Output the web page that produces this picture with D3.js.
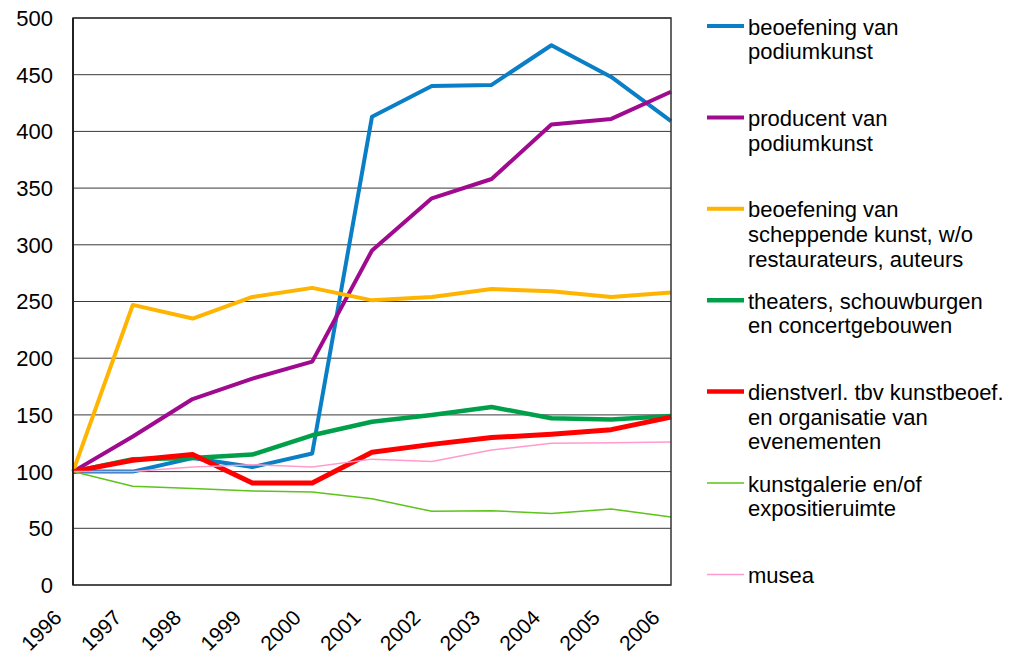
<!DOCTYPE html>
<html>
<head>
<meta charset="utf-8">
<script src="https://cdn.jsdelivr.net/npm/d3@7"></script>
<style>
  body { margin: 0; background: #fff; }
  svg { display: block; }
  text { font-family: "Liberation Sans", Arial, sans-serif; fill: #000; }
</style>
</head>
<body>
<svg></svg>
<script>
// data (index, 1996 = 100)
const years = [1996, 1997, 1998, 1999, 2000, 2001, 2002, 2003, 2004, 2005, 2006];
const yTicks = [0, 50, 100, 150, 200, 250, 300, 350, 400, 450, 500];

const seriesNames = [
  ["beoefening van", "podiumkunst"],
  ["producent van", "podiumkunst"],
  ["beoefening van", "scheppende kunst, w/o", "restaurateurs, auteurs"],
  ["theaters, schouwburgen", "en concertgebouwen"],
  ["dienstverl. tbv kunstbeoef.", "en organisatie van", "evenementen"],
  ["kunstgalerie en/of", "expositieruimte"],
  ["musea"]
];
const seriesColors = ["#0A7FC6", "#A00A8E", "#FFB400", "#00A04B", "#FF0000", "#5CC41A", "#FF9BCD"];
const seriesWidths = [4, 4, 4, 4.5, 5, 1.5, 1.5];

const podiumBeoefening = [100, 100, 112, 104, 116, 413, 440, 441, 476, 448, 409];
const podiumProducent  = [100, 131, 164, 182, 197, 295, 341, 358, 406, 411, 435];
const scheppendeKunst  = [100, 247, 235, 254, 262, 251, 254, 261, 259, 254, 258];
const theaters         = [100, 111, 112, 115, 132, 144, 150, 157, 147, 146, 149];
const dienstverlening  = [100, 110, 115, 90, 90, 117, 124, 130, 133, 137, 148];
const kunstgalerie     = [100, 87, 85, 83, 82, 76, 65, 65.5, 63, 67, 60];
const musea            = [100, 100, 104, 106, 104, 111, 109, 119, 125, 125.5, 126];

const seriesValues = [podiumBeoefening, podiumProducent, scheppendeKunst, theaters,
                      dienstverlening, kunstgalerie, musea];

const width = 1018, height = 656;
const margin = {top: 18, left: 73, right: 347, bottom: 71};
const innerW = width - margin.left - margin.right;
const innerH = height - margin.top - margin.bottom;

const svg = d3.select("svg").attr("width", width).attr("height", height);
const g = svg.append("g").attr("transform", "translate(" + margin.left + "," + margin.top + ")");

const x = d3.scaleLinear().domain([1996, 2006]).range([0, innerW]);
const y = d3.scaleLinear().domain([0, 500]).range([innerH, 0]);

// gridlines
g.selectAll(".grid").data(yTicks)
  .enter().append("line")
    .attr("x1", 0).attr("x2", innerW)
    .attr("y1", d => y(d)).attr("y2", d => y(d))
    .attr("stroke", "#3a3a3a").attr("stroke-width", 1);

// y labels
g.selectAll(".ylab").data(yTicks)
  .enter().append("text")
    .attr("x", -20).attr("y", d => y(d))
    .attr("dy", "0.36em")
    .attr("text-anchor", "end")
    .attr("font-size", "22px")
    .text(d => d);

// x labels, rotated
g.selectAll(".xlab").data(years)
  .enter().append("text")
    .attr("text-anchor", "end")
    .attr("font-size", "21px")
    .attr("transform", d => "translate(" + (x(d) - 10) + "," + (innerH + 34) + ") rotate(-45)")
    .text(d => d);

// lines
const line = d3.line()
  .x((d, i) => x(years[i]))
  .y(d => y(d));

g.selectAll(".series").data(seriesValues)
  .enter().append("path")
    .attr("fill", "none")
    .attr("stroke", (d, i) => seriesColors[i])
    .attr("stroke-width", (d, i) => seriesWidths[i])
    .attr("stroke-linejoin", "round")
    .attr("d", line);

// plot frame
g.append("rect")
  .attr("width", innerW).attr("height", innerH)
  .attr("fill", "none").attr("stroke", "#333").attr("stroke-width", 1.5);
g.append("line")
  .attr("x1", 0).attr("x2", 0).attr("y1", 0).attr("y2", innerH)
  .attr("stroke", "#222").attr("stroke-width", 2);

// legend
const legend = svg.append("g").attr("transform", "translate(707,26)");
const item = legend.selectAll(".item").data(seriesNames)
  .enter().append("g")
    .attr("transform", (d, i) => "translate(0," + (i * 91.4) + ")");

item.append("line")
  .attr("x1", 0).attr("x2", 37)
  .attr("stroke", (d, i) => seriesColors[i])
  .attr("stroke-width", (d, i) => Math.min(seriesWidths[i], 4.5));

item.append("text")
  .attr("font-size", "22px")
  .selectAll("tspan").data(d => d)
  .enter().append("tspan")
    .attr("x", 41)
    .attr("y", (d, i) => 8.5 + i * 24.7)
    .text(d => d);
</script>
</body>
</html>
